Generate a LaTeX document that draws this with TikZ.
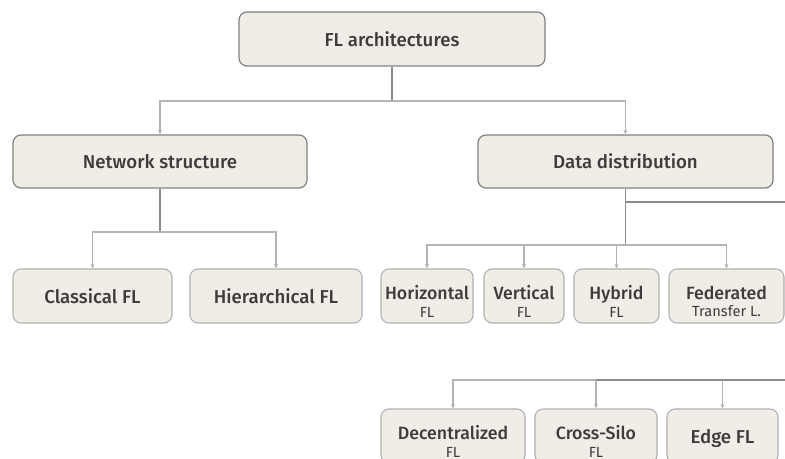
\documentclass[tikz,border=0pt]{standalone}
\usepackage{fontspec}
\setmainfont{Fira Sans}[BoldFont={Fira Sans Medium}]
\usetikzlibrary{arrows.meta}
\definecolor{boxfill}{HTML}{F0EDE6}
\definecolor{boxline}{HTML}{808080}
\definecolor{childline}{HTML}{AFAFAF}
\definecolor{trunkcol}{HTML}{8A8A8A}
\definecolor{branchcol}{HTML}{B4B4B4}
\definecolor{txt}{HTML}{3D3B3C}
\newcommand\subfnt{\mdseries\fontsize{11}{13.3}\selectfont}
\newcommand\twoline[2]{\raisebox{-6pt}[\height][\depth]{\fontsize{13.3}{13.3}\selectfont
  \begin{tabular}{@{}c@{}}#1\\{\subfnt #2}\end{tabular}}}
\begin{document}
\begin{tikzpicture}[x=0.75pt,y=-0.75pt,
  mainbox/.style={draw=boxline,line width=0.9pt,fill=boxfill,rounded corners=6pt,
    text=txt,font=\bfseries\fontsize{14}{16}\selectfont,inner sep=0pt,align=center},
  childbox/.style={draw=childline,line width=0.8pt,fill=boxfill,rounded corners=6pt,
    text=txt,font=\bfseries\fontsize{14}{16}\selectfont,inner sep=0pt,
    minimum height=40.5pt},
  trunk/.style={draw=trunkcol,line width=1.1pt},
  branch/.style={draw=branchcol,line width=0.8pt},
  arr/.style={-{Stealth[length=3.5pt,width=3.2pt]}}
]
\useasboundingbox (0,0) rectangle (785,459);
\clip (0,0) rectangle (785,459);

% level 0
\node[mainbox,minimum width=229.5pt,minimum height=40.5pt] (top) at (392,39) {FL architectures};
% level 1
\node[mainbox,minimum width=220.5pt,minimum height=39.75pt] (ns) at (160,161.5) {Network structure};
\node[mainbox,minimum width=221.25pt,minimum height=39.75pt] (dd) at (625.5,161.5) {Data distribution};
% level 2 left
\node[childbox,minimum width=119.25pt] (cl) at (92.5,296) {Classical FL};
\node[childbox,minimum width=129pt] (hi) at (276,296) {Hierarchical FL};
% level 2 right
\node[childbox,minimum width=69pt] (ho) at (427,296) {\twoline{Horizontal}{FL}};
\node[childbox,minimum width=60pt] (ve) at (524,296) {\twoline{Vertical}{FL}};
\node[childbox,minimum width=63.75pt] (hy) at (616.5,296) {\twoline{Hybrid}{FL}};
\node[childbox,minimum width=86.25pt] (fe) at (726.5,296) {\twoline{Federated}{Transfer L.}};
% bottom row
\node[childbox,minimum width=108pt] (de) at (453,436) {\twoline{Decentralized}{FL}};
\node[childbox,minimum width=91.5pt] (cs) at (596,436) {\twoline{Cross-Silo}{FL}};
\node[childbox,minimum width=83.25pt,text depth=0pt] (ed) at (722.5,436) {Edge FL};

% junctions
\coordinate (j0) at (392,101);
\coordinate (j1) at (160,232);
\coordinate (j2) at (625.5,202);
\coordinate (j3) at (625.5,245);
\coordinate (off1) at (800,202);
\coordinate (off2) at (800,380);
\coordinate (j5) at (596,380);

% top
\draw[trunk] (top.south) -- (j0);
\draw[branch,arr] (j0) -| (ns.north);
\draw[branch,arr] (j0) -| (dd.north);
% network structure
\draw[trunk] (ns.south) -- (j1);
\draw[branch,arr] (j1) -| (cl.north);
\draw[branch,arr] (j1) -| (hi.north);
% data distribution
\draw[trunk] (dd.south) -- (j3);
\draw[trunk] (j2) -- (off1);
\draw[branch,arr] (j3) -| (ho.north);
\draw[branch,arr] (j3) -| (ve.north);
\draw[branch,arr] (j3) -| (hy.north);
\draw[branch,arr] (j3) -| (fe.north);
% bottom row
\draw[trunk] (off2) -- (j5);
\draw[branch,arr] (j5) -| (de.north);
\draw[branch,arr] (j5) -- (cs.north);
\draw[branch,arr] (ed.north |- j5) -- (ed.north);
\end{tikzpicture}
\end{document}
